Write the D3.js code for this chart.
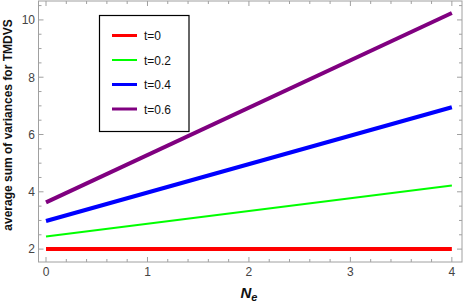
<!DOCTYPE html>
<html>
<head>
<meta charset="utf-8">
<script src="https://cdn.jsdelivr.net/npm/d3@7"></script>
<style>
body { margin: 0; background: #fff; }
text { font-family: "Liberation Sans", Arial, sans-serif; }
</style>
</head>
<body>
<svg id="chart" width="463" height="307"></svg>
<script>
const neValues = [0, 4];
const seriesNames = ["t=0", "t=0.2", "t=0.4", "t=0.6"];
const seriesColors = ["#ff0000", "#00ff00", "#0000ff", "#800080"];
const seriesWidths = [4, 2, 4, 4];
const t0 = [2, 2];
const t02 = [2.44, 4.22];
const t04 = [2.98, 6.95];
const t06 = [3.63, 10.24];
const allSeries = [t0, t02, t04, t06];
const xTicks = [0, 1, 2, 3, 4];
const yTicks = [2, 4, 6, 8, 10];

let svg = d3.select("#chart");
const plotLeft = 38.5, plotRight = 462, plotTop = 1, plotBottom = 262;

let x = d3.scaleLinear().domain([-0.074, 4.1]).range([plotLeft, plotRight]);
let y = d3.scaleLinear().domain([1.55, 10.66]).range([plotBottom, plotTop]);

// frame
svg.append("rect")
    .attr("x", plotLeft).attr("y", plotTop)
    .attr("width", plotRight - plotLeft).attr("height", plotBottom - plotTop)
    .attr("fill", "none").attr("stroke", "#a0a0a0").attr("stroke-width", 1);

const tickCol = "#a0a0a0";
let ticks = svg.append("g").attr("stroke", tickCol).attr("stroke-width", 1);

// x ticks (major + minor), bottom and top
for (let v = 0; v <= 4.0001; v += 0.2) {
    let major = Math.abs(v - Math.round(v)) < 1e-6;
    let len = major ? 5 : 3;
    let px = x(v);
    ticks.append("line").attr("x1", px).attr("x2", px).attr("y1", plotBottom).attr("y2", plotBottom - len);
    ticks.append("line").attr("x1", px).attr("x2", px).attr("y1", plotTop).attr("y2", plotTop + len);
}
// y ticks, left and right
for (let v = 2; v <= 10.5001; v += 0.5) {
    let major = Math.abs(v / 2 - Math.round(v / 2)) < 1e-6;
    let len = major ? 5 : 3;
    let py = y(v);
    ticks.append("line").attr("y1", py).attr("y2", py).attr("x1", plotLeft).attr("x2", plotLeft + len);
    ticks.append("line").attr("y1", py).attr("y2", py).attr("x1", plotRight).attr("x2", plotRight - len);
}

svg.selectAll(".xlab").data(xTicks).enter().append("text")
    .attr("x", d => x(d)).attr("y", plotBottom + 13.5)
    .attr("text-anchor", "middle").attr("font-size", 12).attr("fill", "#444")
    .text(d => d);

svg.selectAll(".ylab").data(yTicks).enter().append("text")
    .attr("x", plotLeft - 3.5).attr("y", d => y(d) + 4.3)
    .attr("text-anchor", "end").attr("font-size", 12).attr("fill", "#444")
    .text(d => d);

// lines
let line = d3.line().x((d, i) => x(neValues[i])).y(d => y(d));
allSeries.forEach((s, i) => {
    svg.append("path").datum(s)
        .attr("d", line)
        .attr("fill", "none")
        .attr("stroke", seriesColors[i])
        .attr("stroke-width", seriesWidths[i]);
});

// axis labels
svg.append("text")
    .attr("transform", "translate(12, 125) rotate(-90)")
    .attr("text-anchor", "middle").attr("font-size", 12).attr("font-weight", "bold")
    .attr("fill", "#111")
    .text("average sum of variances for TMDVS");

let xl = svg.append("text")
    .attr("x", 249).attr("y", 298)
    .attr("text-anchor", "middle").attr("font-weight", "bold").attr("font-style", "italic")
    .attr("fill", "#111");
xl.append("tspan").attr("font-size", 15).text("N");
xl.append("tspan").attr("font-size", 11).attr("dy", 3).text("e");

// legend
let legend = svg.append("g");
legend.append("rect")
    .attr("x", 99.5).attr("y", 15.5).attr("width", 89.5).attr("height", 116)
    .attr("fill", "#fff").attr("stroke", "#000").attr("stroke-width", 1.2);
seriesNames.forEach((name, i) => {
    let ly = 35.5 + i * 24.5;
    legend.append("line")
        .attr("x1", 112).attr("x2", 137).attr("y1", ly).attr("y2", ly)
        .attr("stroke", seriesColors[i]).attr("stroke-width", i === 1 ? 2 : 3);
    legend.append("text")
        .attr("x", 144).attr("y", ly + 4.5)
        .attr("font-size", 12).attr("fill", "#111")
        .text(name);
});
</script>
</body>
</html>
